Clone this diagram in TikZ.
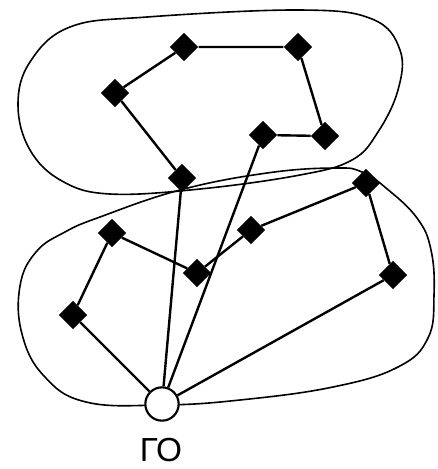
\documentclass[tikz,border=0pt]{standalone}
\usepackage{fontspec}
\setmainfont{Liberation Sans}
\usetikzlibrary{calc}
\tikzset{
  vert/.style={fill=black,rectangle,rotate=45,minimum size=15pt,inner sep=0pt},
  root/.style={draw=black,fill=white,circle,line width=1.6pt,minimum size=25pt,inner sep=0pt},
  link/.style={draw=black,line width=1.8pt},
  zone/.style={draw=black,line width=1.2pt}
}

\begin{document}
\begin{tikzpicture}[x=0.75pt,y=-0.75pt]
  \useasboundingbox (0,0) rectangle (437,469);
  % outlines
  \draw[zone] plot[smooth cycle,tension=0.65] coordinates {
    (147,17) (300,10) (372,19) (400,50) (398,90)
    (378,132) (352,160) (300,175) (200,189) (110,194)
    (62,181) (30,150) (18,105) (30,62) (70,27)};
  \draw[zone] plot[smooth cycle,tension=0.7] coordinates {
    (162,405) (86,402) (44,376) (22,334) (20,286) (36,252) (65,232)
    (100,217) (180,190) (267,173) (335,168) (362,172) (386,188)
    (417,218) (431,250) (434,295) (428,338) (398,367) (333,387)
    (240,400)};
  % top group
  \node[vert] (t1) at (184,47) {};
  \node[vert] (t2) at (298,47) {};
  \node[vert] (t3) at (115,93) {};
  \node[vert] (t4) at (325,136) {};
  \node[vert] (t5) at (263,135) {};
  \node[vert] (t6) at (182,178) {};
  % bottom group
  \node[vert] (b1) at (366,183) {};
  \node[vert] (b2) at (251,230) {};
  \node[vert] (b3) at (112,233) {};
  \node[vert] (b4) at (197,273) {};
  \node[vert] (b5) at (393,275) {};
  \node[vert] (b6) at (73,315) {};
  \node[root] (go) at (162,404) {};
  \node[font=\fontsize{25}{25}\selectfont] (lbl) at (161,450) {ГО};
  \draw[link] (t3) -- (t1) -- (t2) -- (t4) -- (t5);
  \draw[link] (t3) -- (t6);
  \draw[link] (b6) -- (b3) -- (b4) -- (b2) -- (b1) -- (b5);
  \draw[link] (go) -- (b6);
  \draw[link] (go) -- (t6);
  \draw[link] (go) -- (t5);
  \draw[link] (go) -- (b5);
\end{tikzpicture}
\end{document}
